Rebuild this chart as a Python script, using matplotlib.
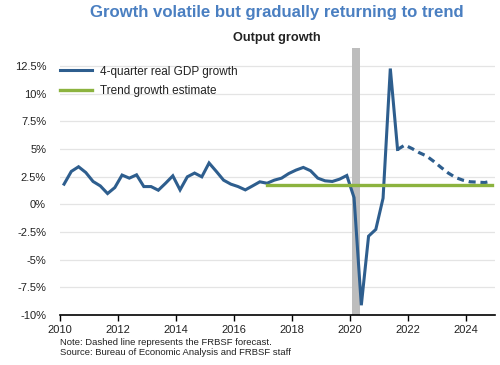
import matplotlib
matplotlib.use("Agg")
import matplotlib.pyplot as plt
from matplotlib.ticker import FuncFormatter

plt.rcParams['font.family'] = ['Liberation Sans', 'DejaVu Sans']

# ---- data ----
start_year = 2010
gdp_actual = [1.82, 2.97, 3.39, 2.87,
              2.06, 1.66, 0.97, 1.51,
              2.64, 2.36, 2.66, 1.60,
              1.60, 1.27, 1.90, 2.57,
              1.30, 2.48, 2.82, 2.48,
              3.73, 2.97, 2.18, 1.82,
              1.60, 1.30, 1.66, 2.03,
              1.90, 2.18, 2.36, 2.78,
              3.09, 3.33, 3.03, 2.36,
              2.12, 2.06, 2.27, 2.60,
              0.60, -9.12, -2.88, -2.27,
              0.55, 12.26, 4.95]
gdp_forecast = [4.95, 5.35, 5.03, 4.66, 4.36, 3.87, 3.33, 2.82, 2.42, 2.18,
                2.03, 2.00, 1.96, 2.09]
trend_value = 1.7
trend_start_index = 28
recession = (2020.08, 2020.33)
x_ticks = [2010, 2012, 2014, 2016, 2018, 2020, 2022, 2024]
y_ticks = [-10, -7.5, -5, -2.5, 0, 2.5, 5, 7.5, 10, 12.5]
labels = ["4-quarter real GDP growth", "Trend growth estimate"]

blue = "#2e5e8e"
green = "#8cb33f"

n_total = len(gdp_actual) + len(gdp_forecast) - 1
quarter_x = [start_year + i / 4 + 0.14 for i in range(n_total)]
x_actual = quarter_x[:len(gdp_actual)]
x_fore = quarter_x[len(gdp_actual) - 1:]

fig = plt.figure(figsize=(5, 3.65), dpi=100)
ax = fig.add_axes([0.12, 0.137, 0.87, 0.731])

ax.axvspan(recession[0], recession[1], color="#bdbdbd", lw=0, zorder=1)
for v in y_ticks[1:]:
    ax.axhline(v, color="#e4e4e4", lw=0.9, zorder=0)

l1, = ax.plot(x_actual, gdp_actual, color=blue, lw=2.2, zorder=3,
              solid_joinstyle='miter')
ax.plot(x_fore, gdp_forecast, color=blue, lw=2.3, zorder=3,
        dashes=(2.2, 1.5))
tx = [quarter_x[trend_start_index], quarter_x[-1]]
l2, = ax.plot(tx, [trend_value, trend_value], color=green, lw=2.4, zorder=4)

ax.set_xlim(2010, 2025)
ax.set_ylim(-10, 14.1)
ax.set_xticks(x_ticks)
ax.set_yticks(y_ticks)
ax.yaxis.set_major_formatter(FuncFormatter(lambda v, p: f"{v:g}%"))
for s in ["top", "right", "left"]:
    ax.spines[s].set_visible(False)
ax.spines["bottom"].set_color("black")
ax.spines["bottom"].set_linewidth(1.2)
ax.tick_params(axis="y", length=0, pad=10, labelsize=8, labelcolor="#222222")
ax.tick_params(axis="x", length=4, width=1, direction="out", pad=3,
               labelsize=8, labelcolor="#222222")

leg = ax.legend([l1, l2], labels, loc="upper left", bbox_to_anchor=(0.0, 0.935),
                frameon=False, fontsize=8.5, handlelength=2.75,
                handletextpad=0.6, labelspacing=0.62, borderaxespad=0,
                borderpad=0)
for t in leg.get_texts():
    t.set_color("#222222")

fig.text(0.554, 0.967, "Growth volatile but gradually returning to trend",
         ha="center", va="center", fontsize=12.1, fontweight="bold",
         color="#4a7fc1")
fig.text(0.554, 0.896, "Output growth", ha="center", va="center",
         fontsize=9.2, fontweight="bold", color="#222222")
fig.text(0.12, 0.061, "Note: Dashed line represents the FRBSF forecast.",
         ha="left", va="center", fontsize=6.8, color="#222222")
fig.text(0.12, 0.033, "Source: Bureau of Economic Analysis and FRBSF staff",
         ha="left", va="center", fontsize=6.8, color="#222222")

fig.savefig("out.png", dpi=100)
